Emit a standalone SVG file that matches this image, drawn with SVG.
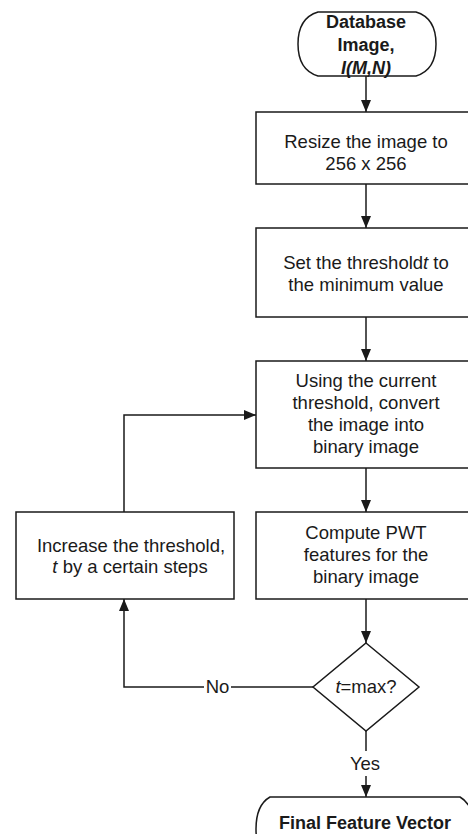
<svg xmlns="http://www.w3.org/2000/svg" width="468" height="834" viewBox="0 0 468 834">
<defs>
<style>
.shape{fill:#fff;stroke:#1a1a1a;stroke-width:1.5}
.t{font-family:"Liberation Sans",Arial,sans-serif;font-size:18.5px;fill:#1a1a1a;text-anchor:middle}
.b{font-family:"Liberation Sans",Arial,sans-serif;font-size:18px;font-weight:bold;fill:#1a1a1a;text-anchor:middle}
.line{fill:none;stroke:#1a1a1a;stroke-width:1.5}
.i{font-style:italic}
</style>
<marker id="arr" viewBox="0 0 12 10" refX="12" refY="5" markerWidth="12" markerHeight="10" markerUnits="userSpaceOnUse" orient="auto">
<path d="M0,0 L12,5 L0,10 Z" fill="#1a1a1a"/>
</marker>
</defs>
<rect width="468" height="834" fill="#fff"/>
<g id="connectors">
<path class="line" d="M366,76 L366,112" marker-end="url(#arr)"/>
<path class="line" d="M366,184 L366,228" marker-end="url(#arr)"/>
<path class="line" d="M366,317 L366,361" marker-end="url(#arr)"/>
<path class="line" d="M366,468 L366,512" marker-end="url(#arr)"/>
<path class="line" d="M366,599 L366,643" marker-end="url(#arr)"/>
<path class="line" d="M366,731 L366,751"/>
<path class="line" d="M366,776 L366,797" marker-end="url(#arr)"/>
<text class="t" x="365" y="770">Yes</text>
<path class="line" d="M313,687 L231,687"/>
<path class="line" d="M204,687 L124,687 L124,599" marker-end="url(#arr)"/>
<text class="t" x="217.5" y="693">No</text>
<path class="line" d="M124,512 L124,415 L256,415" marker-end="url(#arr)"/>
</g>
<g id="start">
<path class="shape" d="M318,12 L416,12 Q436,18 436,44 Q436,70 416,76 L318,76 Q298,70 298,44 Q298,18 318,12 Z"/>
<text class="b" x="366" y="28">Database</text>
<text class="b" x="366" y="51">Image,</text>
<text class="b i" x="366" y="74">I(M,N)</text>
</g>
<g id="resize">
<rect class="shape" x="256" y="112" width="220" height="72"/>
<text class="t" x="366" y="148">Resize the image to</text>
<text class="t" x="366" y="170">256 x 256</text>
</g>
<g id="setthreshold">
<rect class="shape" x="256" y="228" width="220" height="89"/>
<text class="t" x="366" y="269">Set the threshold<tspan class="i">t</tspan> to</text>
<text class="t" x="366" y="291">the minimum value</text>
</g>
<g id="convert">
<rect class="shape" x="256" y="361" width="220" height="107"/>
<text class="t" x="366" y="387">Using the current</text>
<text class="t" x="366" y="409">threshold, convert</text>
<text class="t" x="366" y="431">the image into</text>
<text class="t" x="366" y="453">binary image</text>
</g>
<g id="compute">
<rect class="shape" x="256" y="512" width="220" height="87"/>
<text class="t" x="366" y="539">Compute PWT</text>
<text class="t" x="366" y="561">features for the</text>
<text class="t" x="366" y="583">binary image</text>
</g>
<g id="increase">
<rect class="shape" x="16" y="512" width="218" height="87"/>
<text class="t" x="131" y="552">Increase the threshold,</text>
<text class="t" x="130" y="573"><tspan class="i">t</tspan> by a certain steps</text>
</g>
<g id="decision">
<polygon class="shape" points="366,643 419,687 366,731 313,687"/>
<text class="t" x="366" y="693"><tspan class="i">t</tspan>=max?</text>
</g>
<g id="end">
<path class="shape" d="M270,797 L460,797 Q474,805 474,829 Q474,853 460,861 L270,861 Q256,853 256,829 Q256,805 270,797 Z"/>
<text class="b" x="365" y="829">Final Feature Vector</text>
</g>
</svg>
